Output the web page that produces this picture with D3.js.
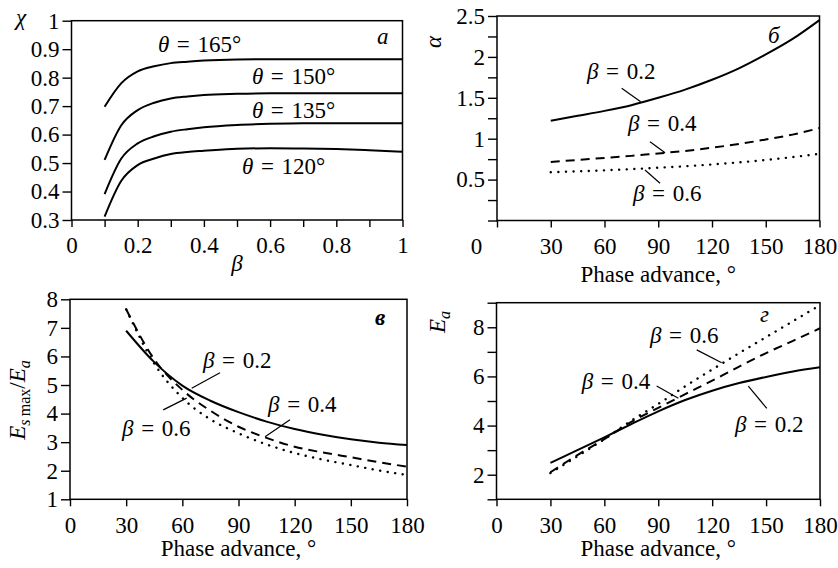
<!DOCTYPE html>
<html>
<head>
<meta charset="utf-8">
<script src="https://cdn.jsdelivr.net/npm/d3@7"></script>
<style>
  body { margin: 0; background: #fff; }
  svg { display: block; font-family: "Liberation Serif", "Times New Roman", serif; }
</style>
</head>
<body>
<svg id="svg" width="838" height="568"></svg>
<script>
// panel a: chi vs beta, one curve per theta
const betaA = [0.1, 0.15, 0.2, 0.25, 0.3, 0.35, 0.4, 0.5, 0.6, 0.7, 0.8, 0.9, 1];
const chi165 = [0.698, 0.78, 0.822, 0.840, 0.851, 0.856, 0.860, 0.864, 0.865, 0.865, 0.865, 0.865, 0.865];
const chi150 = [0.511, 0.632, 0.686, 0.712, 0.727, 0.734, 0.739, 0.743, 0.745, 0.745, 0.745, 0.745, 0.745];
const chi135 = [0.391, 0.515, 0.569, 0.594, 0.610, 0.619, 0.626, 0.634, 0.638, 0.640, 0.640, 0.640, 0.640];
const chi120 = [0.312, 0.437, 0.493, 0.516, 0.532, 0.539, 0.543, 0.550, 0.552, 0.551, 0.549, 0.545, 0.540];

// panels б, в, г: against phase advance
const phase = [30, 45, 60, 75, 90, 105, 120, 135, 150, 165, 180];
const alpha02 = [1.22, 1.28, 1.34, 1.41, 1.50, 1.60, 1.72, 1.86, 2.03, 2.22, 2.45];
const alpha04 = [0.715, 0.74, 0.765, 0.79, 0.82, 0.85, 0.89, 0.935, 0.99, 1.05, 1.13];
const alpha06 = [0.59, 0.60, 0.613, 0.628, 0.645, 0.663, 0.685, 0.71, 0.74, 0.775, 0.815];

const field02 = [6.9, 5.8, 4.98, 4.45, 4.05, 3.72, 3.46, 3.26, 3.1, 2.98, 2.9];
const field04 = [7.65, 5.9, 4.83, 4.1, 3.54, 3.15, 2.84, 2.64, 2.47, 2.3, 2.14];
const field06 = [7.65, 5.75, 4.55, 3.8, 3.31, 2.92, 2.62, 2.39, 2.2, 2.01, 1.85];

const ea02 = [2.48, 3.0, 3.52, 4.06, 4.58, 5.04, 5.42, 5.73, 5.98, 6.2, 6.37];
const ea04 = [2.1, 2.8, 3.45, 4.15, 4.72, 5.28, 5.83, 6.4, 6.95, 7.45, 7.96];
const ea06 = [2.07, 2.75, 3.45, 4.2, 4.88, 5.6, 6.28, 6.95, 7.6, 8.25, 8.9];

// ticks
const betaTicks = [0, 0.1, 0.2, 0.3, 0.4, 0.5, 0.6, 0.7, 0.8, 0.9, 1];
const betaLabels = [0, 0.2, 0.4, 0.6, 0.8, 1];
const chiTicks = [0.3, 0.4, 0.5, 0.6, 0.7, 0.8, 0.9, 1];
const phaseTicks = [0, 30, 60, 90, 120, 150, 180];
const alphaTicks = [0, 0.25, 0.5, 0.75, 1, 1.25, 1.5, 1.75, 2, 2.25, 2.5];
const alphaLabels = [0.5, 1, 1.5, 2, 2.5];
const fieldTicks = [1, 2, 3, 4, 5, 6, 7, 8];
const eaTicks = [1, 2, 3, 4, 5, 6, 7, 8, 9];
const eaLabels = [2, 4, 6, 8];

const fs = 23;
const styles = {
    solid: null,
    dashed: "9 6",
    dotted: "0.1 7.5"
};

const svg = d3.select("#svg");

function rich(text, parts) {
    parts.forEach(p => {
        const t = text.append("tspan").text(p.t);
        if (p.i) t.attr("font-style", "italic");
        if (p.s) t.attr("font-size", p.s);
        if (p.dy) t.attr("dy", p.dy);
    });
    return text;
}

function greekEq(sym, val) {
    return [{t: sym, i: true}, {t: "\u2004=\u2004" + val}];
}

const panels = [
    {
        xr: [71.5, 402.5], yr: [220, 20.7], xd: [0, 1], yd: [0.3, 1],
        xTicks: betaTicks, xLab: betaLabels, yTicks: chiTicks, yLab: chiTicks,
        xFmt: d => d === 0 || d === 1 ? String(d) : d.toFixed(1),
        yFmt: d => d === 1 ? "1" : d.toFixed(1),
        x: betaA,
        series: [
            {v: chi165, s: "solid"}, {v: chi150, s: "solid"},
            {v: chi135, s: "solid"}, {v: chi120, s: "solid"}
        ],
        notes: [
            {at: [0.261, 0.890], text: greekEq("θ", "165°")},
            {at: [0.545, 0.778], text: greekEq("θ", "150°")},
            {at: [0.545, 0.658], text: greekEq("θ", "135°")},
            {at: [0.515, 0.462], text: greekEq("θ", "120°")}
        ],
        letter: {t: "а", dx: -25.5, dy: 23},
        xTitle: {parts: [{t: "β", i: true}], y: 271},
        yTitle: {parts: [{t: "χ", i: true}], x: 16, y: 25, rot: false}
    },
    {
        xr: [497, 819.5], yr: [220.5, 16], xd: [0, 180], yd: [0, 2.5],
        xTicks: phaseTicks, xLab: phaseTicks, yTicks: alphaTicks, yLab: alphaLabels,
        xFmt: d => String(d), yFmt: d => String(d), zeroShift: -21,
        x: phase,
        series: [{v: alpha02, s: "solid"}, {v: alpha04, s: "dashed"}, {v: alpha06, s: "dotted"}],
        notes: [
            {at: [50.2, 1.73], text: greekEq("β", "0.2"), lead: [[69.6, 1.616], [80.2, 1.452]]},
            {at: [73.1, 1.098], text: greekEq("β", "0.4"), lead: [[85.4, 0.963], [93.8, 0.829]]},
            {at: [75.9, 0.238], text: greekEq("β", "0.6"), lead: [[82.6, 0.617], [91.0, 0.455]]}
        ],
        letter: {t: "б", dx: -51.5, dy: 27},
        xTitle: {parts: [{t: "Phase advance, °"}], y: 282},
        yTitle: {parts: [{t: "α", i: true}], x: 441, y: 42, rot: true}
    },
    {
        xr: [70, 407], yr: [499.3, 299.3], xd: [0, 180], yd: [1, 8],
        xTicks: phaseTicks, xLab: phaseTicks, yTicks: fieldTicks, yLab: fieldTicks,
        xFmt: d => String(d), yFmt: d => String(d),
        x: phase,
        series: [{v: field02, s: "solid"}, {v: field04, s: "dashed"}, {v: field06, s: "dotted"}],
        notes: [
            {at: [71, 5.6], text: greekEq("β", "0.2"), lead: [[80.1, 5.43], [65.0, 4.89]]},
            {at: [105.8, 4.07], text: greekEq("β", "0.4"), lead: [[117.5, 3.78], [104.2, 3.19]]},
            {at: [27.8, 3.22], text: greekEq("β", "0.6"), lead: [[49.8, 4.13], [62.3, 4.54]]}
        ],
        letter: {t: "в", dx: -32, dy: 26, bold: true},
        xTitle: {parts: [{t: "Phase advance, °"}], y: 556},
        yTitle: {
            parts: [
                {t: "E", i: true}, {t: "s", i: true, s: 16, dy: 5}, {t: "\u2009max", s: 16},
                {t: "/", dy: -5}, {t: "E", i: true}, {t: "a", i: true, s: 16, dy: 5}
            ],
            x: 25, y: 400, rot: true
        }
    },
    {
        xr: [496.5, 820], yr: [499.3, 302.7], xd: [0, 180], yd: [1, 9],
        xTicks: phaseTicks, xLab: phaseTicks, yTicks: eaTicks, yLab: eaLabels,
        xFmt: d => String(d), yFmt: d => String(d),
        x: phase,
        series: [{v: ea02, s: "solid"}, {v: ea04, s: "dashed"}, {v: ea06, s: "dotted"}],
        notes: [
            {at: [85.4, 7.35], text: greekEq("β", "0.6"), lead: [[111.4, 7.08], [125.3, 6.56]]},
            {at: [47.4, 5.48], text: greekEq("β", "0.4"), lead: [[89.1, 5.61], [101.2, 5.11]]},
            {at: [132.7, 3.75], text: greekEq("β", "0.2"), lead: [[150.4, 4.70], [140.1, 5.61]]}
        ],
        letter: {t: "г", dx: -60, dy: 19},
        xTitle: {parts: [{t: "Phase advance, °"}], y: 556},
        yTitle: {parts: [{t: "E", i: true}, {t: "a", i: true, s: 16, dy: 5}], x: 445, y: 322, rot: true}
    }
];

panels.forEach(p => {
    const x = d3.scaleLinear(p.xd, p.xr);
    const y = d3.scaleLinear(p.yd, p.yr);
    const g = svg.append("g");

    const xAxis = g.append("g")
        .attr("transform", `translate(0,${p.yr[0]})`)
        .call(d3.axisBottom(x)
            .tickValues(p.xTicks)
            .tickSize(7)
            .tickPadding(10)
            .tickFormat(d => p.xLab.includes(d) ? p.xFmt(d) : ""));

    const yAxis = g.append("g")
        .attr("transform", `translate(${p.xr[0]},0)`)
        .call(d3.axisLeft(y)
            .tickValues(p.yTicks)
            .tickSize(9)
            .tickPadding(3)
            .tickFormat(d => p.yLab.includes(d) ? p.yFmt(d) : ""));

    [xAxis, yAxis].forEach(a => {
        a.attr("font-family", null);
        a.select(".domain").remove();
        a.selectAll("line").attr("stroke", "#000").attr("stroke-width", 1.4);
        a.selectAll("text")
            .attr("fill", "#000")
            .attr("font-size", fs);
    });

    if (p.zeroShift) {
        xAxis.selectAll(".tick").filter(d => d === 0).select("text").attr("x", p.zeroShift);
    }

    g.append("rect")
        .attr("x", p.xr[0])
        .attr("y", p.yr[1])
        .attr("width", p.xr[1] - p.xr[0])
        .attr("height", p.yr[0] - p.yr[1])
        .attr("fill", "none")
        .attr("stroke", "#000")
        .attr("stroke-width", 1.5);

    const line = d3.line()
        .x((d, i) => x(p.x[i]))
        .y(d => y(d))
        .curve(d3.curveMonotoneX);

    p.series.forEach(s => {
        g.append("path")
            .attr("d", line(s.v))
            .attr("fill", "none")
            .attr("stroke", "#000")
            .attr("stroke-width", s.s === "dotted" ? 2.4 : 2)
            .attr("stroke-linecap", s.s === "dotted" ? "round" : "butt")
            .attr("stroke-dasharray", styles[s.s]);
    });

    p.notes.forEach(n => {
        if (n.lead) {
            g.append("line")
                .attr("x1", x(n.lead[0][0])).attr("y1", y(n.lead[0][1]))
                .attr("x2", x(n.lead[1][0])).attr("y2", y(n.lead[1][1]))
                .attr("stroke", "#000")
                .attr("stroke-width", 1.2);
        }
        const t = g.append("text")
            .attr("x", x(n.at[0]))
            .attr("y", y(n.at[1]))
            .attr("font-size", fs);
        rich(t, n.text);
    });

    g.append("text")
        .attr("x", p.xr[1] + p.letter.dx)
        .attr("y", p.yr[1] + p.letter.dy)
        .attr("font-size", fs)
        .attr("font-style", "italic")
        .attr("font-weight", p.letter.bold ? "bold" : null)
        .text(p.letter.t);

    const xt = g.append("text")
        .attr("x", (p.xr[0] + p.xr[1]) / 2)
        .attr("y", p.xTitle.y)
        .attr("text-anchor", "middle")
        .attr("font-size", fs);
    rich(xt, p.xTitle.parts);

    const yt = g.append("text").attr("font-size", fs);
    if (p.yTitle.rot) {
        yt.attr("transform", `translate(${p.yTitle.x},${p.yTitle.y}) rotate(-90)`)
            .attr("text-anchor", "middle");
    } else {
        yt.attr("x", p.yTitle.x).attr("y", p.yTitle.y);
    }
    rich(yt, p.yTitle.parts);
});
</script>
</body>
</html>
